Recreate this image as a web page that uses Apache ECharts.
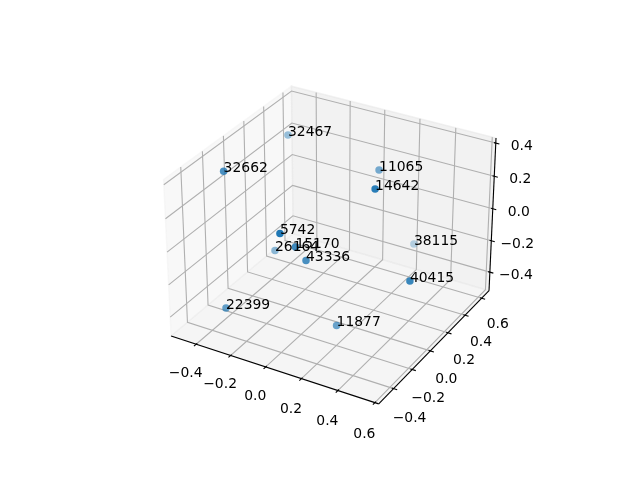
<!DOCTYPE html>
<html><head><meta charset="utf-8"><style>html,body{margin:0;background:#fff}#c{width:640px;height:480px}</style>
<script src="https://cdn.jsdelivr.net/npm/echarts@6/dist/echarts.min.js"></script></head><body><div id="c"></div><script>
const ids=['32467','32662','11065','14642','5742','26164','15170','43336','38115','40415','22399','11877'];
const xs=[-0.411,-0.407,0.120,0.333,0.030,-0.290,0.014,0.043,0.194,0.544,-0.299,0.160];
const ys=[0.409,-0.234,0.399,-0.058,-0.448,0.050,-0.273,-0.221,0.666,-0.091,-0.425,-0.123];
const zs=[0.289,0.367,0.230,0.397,0.238,-0.221,0.064,-0.035,-0.343,-0.065,-0.330,-0.451];
const xyTicks=[-0.4,-0.2,0,0.2,0.4,0.6];
const zTicks=[-0.4,-0.2,0,0.2,0.4];
const lim=[[-0.524,0.597],[-0.53,0.665],[-0.501,0.411]];
const A=[1.1429,1.1429,.8571],R=A.map(a=>a/2);
const el=30*Math.PI/180,az=-60*Math.PI/180;
const w=[Math.cos(el)*Math.cos(az),Math.cos(el)*Math.sin(az),Math.sin(el)];
const cross=(a,b)=>[a[1]*b[2]-a[2]*b[1],a[2]*b[0]-a[0]*b[2],a[0]*b[1]-a[1]*b[0]];
const norm=a=>{const n=Math.hypot(...a);return a.map(v=>v/n)};
const u=norm(cross([0,0,1],w)),v=cross(w,u);const dot=(a,b)=>a[0]*b[0]+a[1]*b[1]+a[2]*b[2];
const E=R.map((r,i)=>r+10*w[i]);
function proj(p){const P=p.map((d,i)=>(d-lim[i][0])/(lim[i][1]-lim[i][0])*A[i]-E[i]);const zv=dot(w,P);return [dot(u,P)/-zv,dot(v,P)/-zv,zv];}
const pad=k=>{const r=(lim[k][1]-lim[k][0])/48;return [lim[k][0]-r,lim[k][1]+r]};
const [x0,x1]=pad(0),[y0,y1]=pad(1),[z0,z1]=pad(2);
const P2=p=>proj(p).slice(0,2);
const polys=[
 {pts:[[x0,y0,z0],[x0,y1,z0],[x0,y1,z1],[x0,y0,z1]],c:'rgba(242,242,242,.5)'},
 {pts:[[x0,y1,z0],[x1,y1,z0],[x1,y1,z1],[x0,y1,z1]],c:'rgba(230,230,230,.5)'},
 {pts:[[x0,y0,z0],[x1,y0,z0],[x1,y1,z0],[x0,y1,z0]],c:'rgba(236,236,236,.5)'}];
const segs=[];
xyTicks.forEach(t=>{segs.push({p:[[t,y0,z0],[t,y1,z0],[t,y1,z1]],c:'#b0b0b0'});segs.push({p:[[x1,t,z0],[x0,t,z0],[x0,t,z1]],c:'#b0b0b0'});});
zTicks.forEach(t=>segs.push({p:[[x0,y0,t],[x0,y1,t],[x1,y1,t]],c:'#b0b0b0'}));
[[[x0,y0,z0],[x1,y0,z0]],[[x1,y0,z0],[x1,y1,z0]],[[x1,y1,z0],[x1,y1,z1]]].forEach(p=>segs.push({p,c:'#000'}));
const dx=(x1-x0)/12,dy=(y1-y0)/12;
xyTicks.forEach(t=>{segs.push({p:[[t,y0-.2*dy,z0],[t,y0+.1*dy,z0]],c:'#000'});segs.push({p:[[x1+.2*dx,t,z0],[x1-.1*dx,t,z0]],c:'#000'});});
zTicks.forEach(t=>segs.push({p:[[x1+.2*dx,y1,t],[x1-.1*dx,y1,t]],c:'#000'}));
const fmt=t=>(t<0?'\u2212':'')+Math.abs(t).toFixed(1);
const tl=[];
xyTicks.forEach(t=>{tl.push({p:P2([t,y0,z0]),dx:-10.5,dy:28.8+(t+.4)*2.6,t:fmt(t)});tl.push({p:P2([x1,t,z0]),dx:16,dy:26+(.6-t)*4,t:fmt(t)});});
zTicks.forEach(t=>{tl.push({p:P2([x1,y1,t]),dx:26,dy:3.6,t:fmt(t)});});
const ds=xs.map((x,i)=>proj([x,ys[i],zs[i]])[2]);const dmin=Math.min(...ds),dmax=Math.max(...ds);
const alpha=ds.map(d=>.3+.7*(d-dmin)/(dmax-dmin));
const chart=echarts.init(document.getElementById('c'),null,{renderer:'canvas'});
chart.setOption({animation:false,grid:{left:143.2,top:57.6,width:369.6,height:369.6},
xAxis:{type:'value',min:-.095,max:.09,show:false},yAxis:{type:'value',min:-.095,max:.09,show:false},
series:[
{type:'custom',coordinateSystem:'cartesian2d',clip:false,silent:true,z:1,data:polys.map((_,i)=>[i]),renderItem:(pa,api)=>{const q=polys[api.value(0)];return {type:'polygon',shape:{points:q.pts.map(p=>api.coord(P2(p)))},style:{fill:q.c,stroke:q.c,lineWidth:1.4}}}},
{type:'custom',coordinateSystem:'cartesian2d',clip:false,silent:true,z:2,data:segs.map((_,i)=>[i]),renderItem:(pa,api)=>{const q=segs[api.value(0)];return {type:'polyline',shape:{points:q.p.map(p=>api.coord(P2(p)))},style:{fill:null,stroke:q.c,lineWidth:1.1}}}},
{type:'custom',coordinateSystem:'cartesian2d',clip:false,silent:true,z:3,data:tl.map((_,i)=>[i]),renderItem:(pa,api)=>{const q=tl[api.value(0)];const c=api.coord(q.p);return {type:'text',x:c[0]+q.dx,y:c[1]+q.dy,style:{text:q.t,font:'13.9px "DejaVu Sans"',fill:'#000',align:'center',verticalAlign:'middle'}}}},
{type:'scatter',z:4,symbolSize:7.5,data:ids.map((id,i)=>({value:P2([xs[i],ys[i],zs[i]]),name:id,itemStyle:{color:`rgba(31,119,180,${alpha[i].toFixed(3)})`,opacity:1},label:{show:true,formatter:id,position:[3.75,7.75],align:'left',verticalAlign:'bottom',color:'#000',fontFamily:'DejaVu Sans',fontSize:13.9}}))}
]});
</script></body></html>
